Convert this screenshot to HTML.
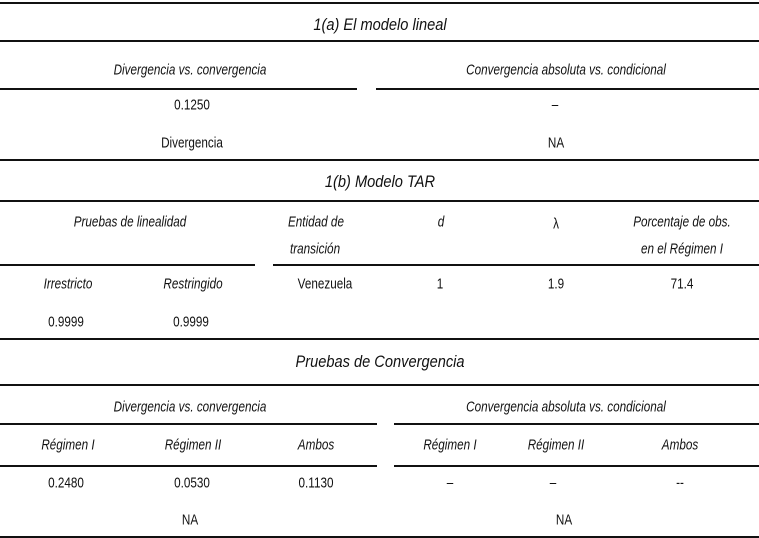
<!DOCTYPE html>
<html><head><meta charset="utf-8"><style>
body{margin:0;background:#fff;}
#c{position:relative;width:759px;height:538px;font-family:"Liberation Sans",sans-serif;font-size:15px;color:#111;overflow:hidden}
.t{position:absolute;transform:translate(-50%,-50%) scaleX(0.78);white-space:nowrap}
.l{position:absolute;transform-origin:0 50%;transform:translateY(-50%) scaleX(0.78);white-space:nowrap}
i{font-style:italic}
.h{position:absolute;height:1.5px;background:#111}
.b{font-size:17px;font-style:italic;transform:translate(-50%,-50%) scaleX(0.86)}
</style></head><body><div id="c">
<div class="h" style="left:0;width:759px;top:2px"></div>
<div class="h" style="left:0;width:759px;top:40px"></div>
<div class="h" style="left:0;width:357px;top:88px"></div>
<div class="h" style="left:376px;width:383px;top:88px"></div>
<div class="h" style="left:0;width:759px;top:159px"></div>
<div class="h" style="left:0;width:759px;top:200px"></div>
<div class="h" style="left:0;width:255px;top:264px"></div>
<div class="h" style="left:273px;width:486px;top:264px"></div>
<div class="h" style="left:0;width:759px;top:338px"></div>
<div class="h" style="left:0;width:759px;top:384px"></div>
<div class="h" style="left:0;width:377px;top:423px"></div>
<div class="h" style="left:394px;width:365px;top:423px"></div>
<div class="h" style="left:0;width:377px;top:465px"></div>
<div class="h" style="left:394px;width:365px;top:465px"></div>
<div class="h" style="left:0;width:759px;top:536px"></div>

<div class="t b" style="left:380px;top:25px">1(a) El modelo lineal</div>
<div class="t" style="left:190px;top:70px"><i>Divergencia vs. convergencia</i></div>
<div class="t" style="left:566px;top:70px"><i>Convergencia absoluta vs. condicional</i></div>
<div class="t" style="left:192px;top:105px">0.1250</div>
<div class="t" style="left:555px;top:105px">–</div>
<div class="t" style="left:192px;top:143px">Divergencia</div>
<div class="t" style="left:556px;top:143px">NA</div>

<div class="t b" style="left:380px;top:182px">1(b) Modelo TAR</div>
<div class="t" style="left:130px;top:222px"><i>Pruebas de linealidad</i></div>
<div class="l" style="left:288px;top:222px"><i>Entidad de</i></div>
<div class="l" style="left:290px;top:249px"><i>transición</i></div>
<div class="t" style="left:441px;top:222px"><i>d</i></div>
<div class="t" style="left:556px;top:224px">λ</div>
<div class="t" style="left:682px;top:222px"><i>Porcentaje de obs.</i></div>
<div class="t" style="left:682px;top:249px"><i>en el Régimen I</i></div>
<div class="t" style="left:68px;top:284px"><i>Irrestricto</i></div>
<div class="t" style="left:193px;top:284px"><i>Restringido</i></div>
<div class="t" style="left:325px;top:284px">Venezuela</div>
<div class="t" style="left:440px;top:284px">1</div>
<div class="t" style="left:556px;top:284px">1.9</div>
<div class="t" style="left:682px;top:284px">71.4</div>
<div class="t" style="left:66px;top:322px">0.9999</div>
<div class="t" style="left:191px;top:322px">0.9999</div>

<div class="t b" style="left:380px;top:362px">Pruebas de Convergencia</div>
<div class="t" style="left:190px;top:407px"><i>Divergencia vs. convergencia</i></div>
<div class="t" style="left:566px;top:407px"><i>Convergencia absoluta vs. condicional</i></div>
<div class="t" style="left:68px;top:445px"><i>Régimen I</i></div>
<div class="t" style="left:193px;top:445px"><i>Régimen II</i></div>
<div class="t" style="left:316px;top:445px"><i>Ambos</i></div>
<div class="t" style="left:450px;top:445px"><i>Régimen I</i></div>
<div class="t" style="left:556px;top:445px"><i>Régimen II</i></div>
<div class="t" style="left:680px;top:445px"><i>Ambos</i></div>
<div class="t" style="left:66px;top:483px">0.2480</div>
<div class="t" style="left:192px;top:483px">0.0530</div>
<div class="t" style="left:316px;top:483px">0.1130</div>
<div class="t" style="left:450px;top:483px">–</div>
<div class="t" style="left:553px;top:483px">–</div>
<div class="t" style="left:680px;top:483px">--</div>
<div class="t" style="left:190px;top:520px">NA</div>
<div class="t" style="left:564px;top:520px">NA</div>
</div></body></html>
